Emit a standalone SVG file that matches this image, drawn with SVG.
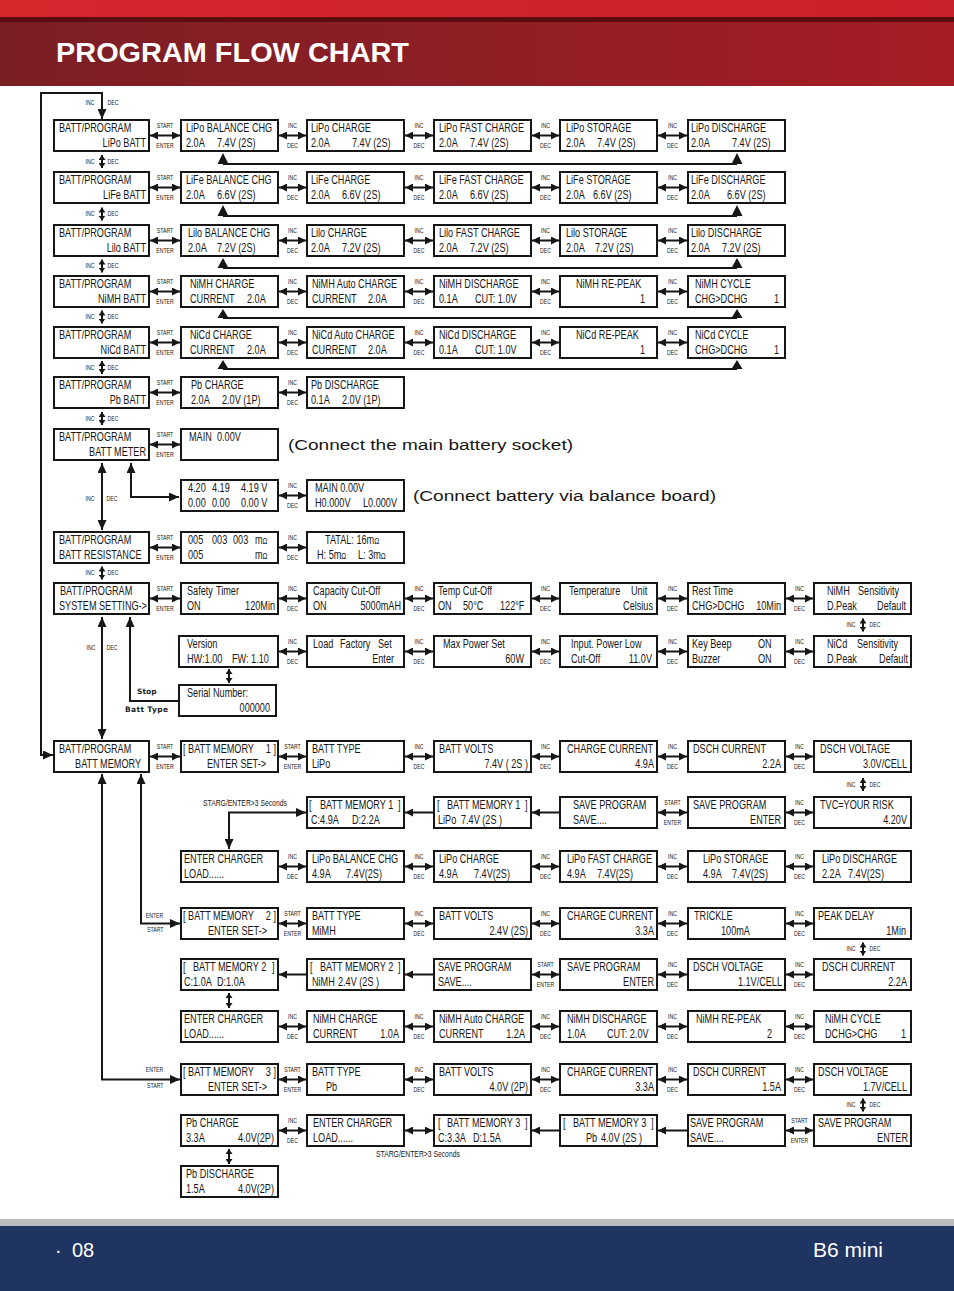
<svg xmlns="http://www.w3.org/2000/svg" width="954" height="1291" viewBox="0 0 954 1291">
<defs>
<linearGradient id="band" x1="0" x2="1" y1="0" y2="0"><stop offset="0" stop-color="#7a1f25"/><stop offset="1" stop-color="#a51d25"/></linearGradient>
<linearGradient id="topbar" x1="0" x2="1" y1="0" y2="0"><stop offset="0" stop-color="#d8262d"/><stop offset="1" stop-color="#c92129"/></linearGradient>
<marker id="h" viewBox="0 0 8 8" refX="8" refY="4" markerWidth="8" markerHeight="8" markerUnits="userSpaceOnUse" orient="auto-start-reverse"><path d="M0,0L8,4L0,8z" fill="#161616"/></marker>
<marker id="H" viewBox="0 0 10 9" refX="10" refY="4.5" markerWidth="10" markerHeight="9" markerUnits="userSpaceOnUse" orient="auto-start-reverse"><path d="M0,0L10,4.5L0,9z" fill="#161616"/></marker>
<marker id="v" viewBox="0 0 5 7" refX="5" refY="3.5" markerWidth="5" markerHeight="7" markerUnits="userSpaceOnUse" orient="auto-start-reverse"><path d="M0,0L5,3.5L0,7z" fill="#161616"/></marker>
</defs>
<style>
text{font-family:"Liberation Sans",Arial,Helvetica,sans-serif;fill:#161616}
.bx rect{fill:#fff;stroke:#161616;stroke-width:2}
.bx text{font-size:12.5px}
.e{text-anchor:end}
.cn line,.cn path{stroke:#161616;stroke-width:2;fill:none}
.cn .rl{stroke-width:1.8}
.cn .tri{fill:#161616;stroke:none}
.d{marker-start:url(#h);marker-end:url(#h)}
.l{marker-end:url(#h)}
.D{marker-start:url(#H);marker-end:url(#H)}
.E{marker-end:url(#H)}
.S{marker-start:url(#v);marker-end:url(#v)}
.lb text{font-size:6.5px;text-anchor:middle}
.lb .st{text-anchor:start;font-size:8.5px}
.note{font-size:15.5px}
.bt{font-family:"DejaVu Sans",sans-serif;font-weight:bold;font-size:7.5px;fill:#222}
</style>
<rect width="954" height="1291" fill="#fff"/>
<g id="header">
<rect x="0" y="0" width="954" height="18" fill="url(#topbar)"/>
<rect x="0" y="17" width="954" height="5" fill="#5a0c11"/>
<rect x="0" y="22" width="954" height="64" fill="url(#band)"/>
<text x="56" y="62" font-size="27" font-weight="bold" style="fill:#fff" textLength="353" lengthAdjust="spacingAndGlyphs">PROGRAM FLOW CHART</text>
</g>
<g id="footer">
<rect x="0" y="1219" width="954" height="7" fill="#bcbcc0"/>
<rect x="0" y="1226" width="954" height="65" fill="#1f3461"/>
<text x="55" y="1257" font-size="20" style="fill:#fff">·</text>
<text x="72" y="1257" font-size="20" style="fill:#fff">08</text>
<text x="883" y="1257" font-size="21" style="fill:#fff" text-anchor="end">B6 mini</text>
</g>

<g id="r1c0" class="bx"><rect x="54" y="120" width="95" height="31"/><text transform="matrix(.73 0 0 1 59 132)">BATT/PROGRAM</text><text class="e" transform="matrix(.73 0 0 1 146 146.5)">LiPo BATT</text></g>
<g id="r1c1" class="bx"><rect x="181" y="120" width="97" height="31"/><text transform="matrix(.73 0 0 1 186 132)">LiPo BALANCE CHG</text><text transform="matrix(.73 0 0 1 186 146.5)">2.0A</text><text transform="matrix(.73 0 0 1 217 146.5)">7.4V (2S)</text></g>
<g id="r1c2" class="bx"><rect x="307" y="120" width="97" height="31"/><text transform="matrix(.73 0 0 1 311 132)">LiPo CHARGE</text><text transform="matrix(.73 0 0 1 311 146.5)">2.0A</text><text transform="matrix(.73 0 0 1 352 146.5)">7.4V (2S)</text></g>
<g id="r1c3" class="bx"><rect x="434" y="120" width="97" height="31"/><text transform="matrix(.73 0 0 1 439 132)">LiPo FAST CHARGE</text><text transform="matrix(.73 0 0 1 439 146.5)">2.0A</text><text transform="matrix(.73 0 0 1 470 146.5)">7.4V (2S)</text></g>
<g id="r1c4" class="bx"><rect x="560" y="120" width="97" height="31"/><text transform="matrix(.73 0 0 1 566 132)">LiPo STORAGE</text><text transform="matrix(.73 0 0 1 566 146.5)">2.0A</text><text transform="matrix(.73 0 0 1 597 146.5)">7.4V (2S)</text></g>
<g id="r1c5" class="bx"><rect x="688" y="120" width="97" height="31"/><text transform="matrix(.73 0 0 1 691 132)">LiPo DISCHARGE</text><text transform="matrix(.73 0 0 1 691 146.5)">2.0A</text><text transform="matrix(.73 0 0 1 732 146.5)">7.4V (2S)</text></g>

<g id="r2c0" class="bx"><rect x="54" y="172" width="95" height="31"/><text transform="matrix(.73 0 0 1 59 184)">BATT/PROGRAM</text><text class="e" transform="matrix(.73 0 0 1 146 198.5)">LiFe BATT</text></g>
<g id="r2c1" class="bx"><rect x="181" y="172" width="97" height="31"/><text transform="matrix(.73 0 0 1 186 184)">LiFe BALANCE CHG</text><text transform="matrix(.73 0 0 1 186 198.5)">2.0A</text><text transform="matrix(.73 0 0 1 217 198.5)">6.6V (2S)</text></g>
<g id="r2c2" class="bx"><rect x="307" y="172" width="97" height="31"/><text transform="matrix(.73 0 0 1 311 184)">LiFe CHARGE</text><text transform="matrix(.73 0 0 1 311 198.5)">2.0A</text><text transform="matrix(.73 0 0 1 342 198.5)">6.6V (2S)</text></g>
<g id="r2c3" class="bx"><rect x="434" y="172" width="97" height="31"/><text transform="matrix(.73 0 0 1 439 184)">LiFe FAST CHARGE</text><text transform="matrix(.73 0 0 1 439 198.5)">2.0A</text><text transform="matrix(.73 0 0 1 470 198.5)">6.6V (2S)</text></g>
<g id="r2c4" class="bx"><rect x="560" y="172" width="97" height="31"/><text transform="matrix(.73 0 0 1 566 184)">LiFe STORAGE</text><text transform="matrix(.73 0 0 1 566 198.5)">2.0A</text><text transform="matrix(.73 0 0 1 593 198.5)">6.6V (2S)</text></g>
<g id="r2c5" class="bx"><rect x="688" y="172" width="97" height="31"/><text transform="matrix(.73 0 0 1 691 184)">LiFe DISCHARGE</text><text transform="matrix(.73 0 0 1 691 198.5)">2.0A</text><text transform="matrix(.73 0 0 1 727 198.5)">6.6V (2S)</text></g>

<g id="r3c0" class="bx"><rect x="54" y="225" width="95" height="31"/><text transform="matrix(.73 0 0 1 59 237)">BATT/PROGRAM</text><text class="e" transform="matrix(.73 0 0 1 146 251.5)">Lilo BATT</text></g>
<g id="r3c1" class="bx"><rect x="181" y="225" width="97" height="31"/><text transform="matrix(.73 0 0 1 188 237)">Lilo BALANCE CHG</text><text transform="matrix(.73 0 0 1 188 251.5)">2.0A</text><text transform="matrix(.73 0 0 1 217 251.5)">7.2V (2S)</text></g>
<g id="r3c2" class="bx"><rect x="307" y="225" width="97" height="31"/><text transform="matrix(.73 0 0 1 311 237)">Lilo CHARGE</text><text transform="matrix(.73 0 0 1 311 251.5)">2.0A</text><text transform="matrix(.73 0 0 1 342 251.5)">7.2V (2S)</text></g>
<g id="r3c3" class="bx"><rect x="434" y="225" width="97" height="31"/><text transform="matrix(.73 0 0 1 439 237)">Lilo FAST CHARGE</text><text transform="matrix(.73 0 0 1 439 251.5)">2.0A</text><text transform="matrix(.73 0 0 1 470 251.5)">7.2V (2S)</text></g>
<g id="r3c4" class="bx"><rect x="560" y="225" width="97" height="31"/><text transform="matrix(.73 0 0 1 566 237)">Lilo STORAGE</text><text transform="matrix(.73 0 0 1 566 251.5)">2.0A</text><text transform="matrix(.73 0 0 1 595 251.5)">7.2V (2S)</text></g>
<g id="r3c5" class="bx"><rect x="688" y="225" width="97" height="31"/><text transform="matrix(.73 0 0 1 691 237)">Lilo DISCHARGE</text><text transform="matrix(.73 0 0 1 691 251.5)">2.0A</text><text transform="matrix(.73 0 0 1 722 251.5)">7.2V (2S)</text></g>

<g id="r4c0" class="bx"><rect x="54" y="276" width="95" height="31"/><text transform="matrix(.73 0 0 1 59 288)">BATT/PROGRAM</text><text class="e" transform="matrix(.73 0 0 1 146 302.5)">NiMH BATT</text></g>
<g id="r4c1" class="bx"><rect x="181" y="276" width="97" height="31"/><text transform="matrix(.73 0 0 1 190 288)">NiMH CHARGE</text><text transform="matrix(.73 0 0 1 190 302.5)">CURRENT</text><text transform="matrix(.73 0 0 1 247 302.5)">2.0A</text></g>
<g id="r4c2" class="bx"><rect x="307" y="276" width="97" height="31"/><text transform="matrix(.73 0 0 1 312 288)">NiMH Auto CHARGE</text><text transform="matrix(.73 0 0 1 312 302.5)">CURRENT</text><text transform="matrix(.73 0 0 1 368 302.5)">2.0A</text></g>
<g id="r4c3" class="bx"><rect x="434" y="276" width="97" height="31"/><text transform="matrix(.73 0 0 1 439 288)">NiMH DISCHARGE</text><text transform="matrix(.73 0 0 1 439 302.5)">0.1A</text><text transform="matrix(.73 0 0 1 475 302.5)">CUT: 1.0V</text></g>
<g id="r4c4" class="bx"><rect x="560" y="276" width="97" height="31"/><text transform="matrix(.73 0 0 1 576 288)">NiMH RE-PEAK</text><text class="e" transform="matrix(.73 0 0 1 645 302.5)">1</text></g>
<g id="r4c5" class="bx"><rect x="688" y="276" width="97" height="31"/><text transform="matrix(.73 0 0 1 695 288)">NiMH CYCLE</text><text transform="matrix(.73 0 0 1 695 302.5)">CHG&gt;DCHG</text><text transform="matrix(.73 0 0 1 774 302.5)">1</text></g>

<g id="r5c0" class="bx"><rect x="54" y="327" width="95" height="31"/><text transform="matrix(.73 0 0 1 59 339)">BATT/PROGRAM</text><text class="e" transform="matrix(.73 0 0 1 146 353.5)">NiCd BATT</text></g>
<g id="r5c1" class="bx"><rect x="181" y="327" width="97" height="31"/><text transform="matrix(.73 0 0 1 190 339)">NiCd CHARGE</text><text transform="matrix(.73 0 0 1 190 353.5)">CURRENT</text><text transform="matrix(.73 0 0 1 247 353.5)">2.0A</text></g>
<g id="r5c2" class="bx"><rect x="307" y="327" width="97" height="31"/><text transform="matrix(.73 0 0 1 312 339)">NiCd Auto CHARGE</text><text transform="matrix(.73 0 0 1 312 353.5)">CURRENT</text><text transform="matrix(.73 0 0 1 368 353.5)">2.0A</text></g>
<g id="r5c3" class="bx"><rect x="434" y="327" width="97" height="31"/><text transform="matrix(.73 0 0 1 439 339)">NiCd DISCHARGE</text><text transform="matrix(.73 0 0 1 439 353.5)">0.1A</text><text transform="matrix(.73 0 0 1 475 353.5)">CUT: 1.0V</text></g>
<g id="r5c4" class="bx"><rect x="560" y="327" width="97" height="31"/><text transform="matrix(.73 0 0 1 576 339)">NiCd RE-PEAK</text><text class="e" transform="matrix(.73 0 0 1 645 353.5)">1</text></g>
<g id="r5c5" class="bx"><rect x="688" y="327" width="97" height="31"/><text transform="matrix(.73 0 0 1 695 339)">NiCd CYCLE</text><text transform="matrix(.73 0 0 1 695 353.5)">CHG&gt;DCHG</text><text transform="matrix(.73 0 0 1 774 353.5)">1</text></g>

<g id="r6c0" class="bx"><rect x="54" y="377" width="95" height="31"/><text transform="matrix(.73 0 0 1 59 389)">BATT/PROGRAM</text><text class="e" transform="matrix(.73 0 0 1 146 403.5)">Pb BATT</text></g>
<g id="r6c1" class="bx"><rect x="181" y="377" width="97" height="31"/><text transform="matrix(.73 0 0 1 191 389)">Pb CHARGE</text><text transform="matrix(.73 0 0 1 191 403.5)">2.0A</text><text transform="matrix(.73 0 0 1 222 403.5)">2.0V (1P)</text></g>
<g id="r6c2" class="bx"><rect x="307" y="377" width="97" height="31"/><text transform="matrix(.73 0 0 1 311 389)">Pb DISCHARGE</text><text transform="matrix(.73 0 0 1 311 403.5)">0.1A</text><text transform="matrix(.73 0 0 1 342 403.5)">2.0V (1P)</text></g>

<g id="r7c0" class="bx"><rect x="54" y="429" width="95" height="31"/><text transform="matrix(.73 0 0 1 59 441)">BATT/PROGRAM</text><text class="e" transform="matrix(.73 0 0 1 146 455.5)">BATT METER</text></g>
<g id="r7c1" class="bx"><rect x="181" y="429" width="97" height="31"/><text transform="matrix(.73 0 0 1 189 441)">MAIN</text><text transform="matrix(.73 0 0 1 217 441)">0.00V</text></g>
<g id="note1"><text class="note" x="288" y="449.5" textLength="285" lengthAdjust="spacingAndGlyphs">(Connect the main battery socket)</text></g>

<g id="r8c1" class="bx"><rect x="181" y="480" width="97" height="31"/><text transform="matrix(.73 0 0 1 188 492)">4.20</text><text transform="matrix(.73 0 0 1 212 492)">4.19</text><text transform="matrix(.73 0 0 1 241 492)">4.19 V</text><text transform="matrix(.73 0 0 1 188 506.5)">0.00</text><text transform="matrix(.73 0 0 1 212 506.5)">0.00</text><text transform="matrix(.73 0 0 1 241 506.5)">0.00 V</text></g>
<g id="r8c2" class="bx"><rect x="307" y="480" width="97" height="31"/><text transform="matrix(.73 0 0 1 315 492)">MAIN 0.00V</text><text transform="matrix(.73 0 0 1 315 506.5)">H0.000V</text><text transform="matrix(.73 0 0 1 363 506.5)">L0.000V</text></g>
<g id="note2"><text class="note" x="413" y="500.5" textLength="303" lengthAdjust="spacingAndGlyphs">(Connect battery via balance board)</text></g>

<g id="r9c0" class="bx"><rect x="54" y="532" width="95" height="31"/><text transform="matrix(.73 0 0 1 59 544)">BATT/PROGRAM</text><text transform="matrix(.73 0 0 1 59 558.5)">BATT RESISTANCE</text></g>
<g id="r9c1" class="bx"><rect x="181" y="532" width="97" height="31"/><text transform="matrix(.73 0 0 1 188 544)">005</text><text transform="matrix(.73 0 0 1 212 544)">003</text><text transform="matrix(.73 0 0 1 233 544)">003</text><text transform="matrix(.73 0 0 1 255 544)">m<tspan style="font-size:9px">Ω</tspan></text><text transform="matrix(.73 0 0 1 188 558.5)">005</text><text transform="matrix(.73 0 0 1 255 558.5)">m<tspan style="font-size:9px">Ω</tspan></text></g>
<g id="r9c2" class="bx"><rect x="307" y="532" width="97" height="31"/><text transform="matrix(.73 0 0 1 325 544)">TATAL:  16m<tspan style="font-size:9px">Ω</tspan></text><text transform="matrix(.73 0 0 1 317 558.5)">H:  5m<tspan style="font-size:9px">Ω</tspan></text><text transform="matrix(.73 0 0 1 358 558.5)">L:  3m<tspan style="font-size:9px">Ω</tspan></text></g>

<g id="r10c0" class="bx"><rect x="54" y="583" width="95" height="31"/><text transform="matrix(.73 0 0 1 60 595)">BATT/PROGRAM</text><text transform="matrix(.73 0 0 1 59 609.5)">SYSTEM SETTING-&gt;</text></g>
<g id="r10c1" class="bx"><rect x="181" y="583" width="97" height="31"/><text transform="matrix(.73 0 0 1 187 595)">Safety</text><text transform="matrix(.73 0 0 1 216 595)">Timer</text><text transform="matrix(.73 0 0 1 187 609.5)">ON</text><text class="e" transform="matrix(.73 0 0 1 275 609.5)">120Min</text></g>
<g id="r10c2" class="bx"><rect x="307" y="583" width="97" height="31"/><text transform="matrix(.73 0 0 1 313 595)">Capacity Cut-Off</text><text transform="matrix(.73 0 0 1 313 609.5)">ON</text><text class="e" transform="matrix(.73 0 0 1 401 609.5)">5000mAH</text></g>
<g id="r10c3" class="bx"><rect x="434" y="583" width="97" height="31"/><text transform="matrix(.73 0 0 1 438 595)">Temp Cut-Off</text><text transform="matrix(.73 0 0 1 438 609.5)">ON</text><text transform="matrix(.73 0 0 1 463 609.5)">50°C</text><text transform="matrix(.73 0 0 1 500 609.5)">122°F</text></g>
<g id="r10c4" class="bx"><rect x="560" y="583" width="97" height="31"/><text transform="matrix(.73 0 0 1 569 595)">Temperature</text><text transform="matrix(.73 0 0 1 631 595)">Unit</text><text class="e" transform="matrix(.73 0 0 1 653 609.5)">Celsius</text></g>
<g id="r10c5" class="bx"><rect x="688" y="583" width="97" height="31"/><text transform="matrix(.73 0 0 1 692 595)">Rest Time</text><text transform="matrix(.73 0 0 1 692 609.5)">CHG&gt;DCHG</text><text class="e" transform="matrix(.73 0 0 1 781 609.5)">10Min</text></g>
<g id="r10c6" class="bx"><rect x="814" y="583" width="97" height="31"/><text transform="matrix(.73 0 0 1 827 595)">NiMH</text><text transform="matrix(.73 0 0 1 858 595)">Sensitivity</text><text transform="matrix(.73 0 0 1 827 609.5)">D.Peak</text><text class="e" transform="matrix(.73 0 0 1 906 609.5)">Default</text></g>

<g id="r11c1" class="bx"><rect x="179" y="636" width="99" height="31"/><text transform="matrix(.73 0 0 1 187 648)">Version</text><text transform="matrix(.73 0 0 1 187 662.5)">HW:1.00</text><text transform="matrix(.73 0 0 1 232 662.5)">FW: 1.10</text></g>
<g id="r11c2" class="bx"><rect x="307" y="636" width="97" height="31"/><text transform="matrix(.73 0 0 1 313 648)">Load</text><text transform="matrix(.73 0 0 1 340 648)">Factory</text><text transform="matrix(.73 0 0 1 378 648)">Set</text><text class="e" transform="matrix(.73 0 0 1 394 662.5)">Enter</text></g>
<g id="r11c3" class="bx"><rect x="434" y="636" width="97" height="31"/><text transform="matrix(.73 0 0 1 443 648)">Max Power Set</text><text class="e" transform="matrix(.73 0 0 1 524 662.5)">60W</text></g>
<g id="r11c4" class="bx"><rect x="560" y="636" width="97" height="31"/><text transform="matrix(.73 0 0 1 571 648)">Input. Power Low</text><text transform="matrix(.73 0 0 1 571 662.5)">Cut-Off</text><text class="e" transform="matrix(.73 0 0 1 652 662.5)">11.0V</text></g>
<g id="r11c5" class="bx"><rect x="688" y="636" width="97" height="31"/><text transform="matrix(.73 0 0 1 692 648)">Key Beep</text><text transform="matrix(.73 0 0 1 758 648)">ON</text><text transform="matrix(.73 0 0 1 692 662.5)">Buzzer</text><text transform="matrix(.73 0 0 1 758 662.5)">ON</text></g>
<g id="r11c6" class="bx"><rect x="814" y="636" width="97" height="31"/><text transform="matrix(.73 0 0 1 827 648)">NiCd</text><text transform="matrix(.73 0 0 1 857 648)">Sensitivity</text><text transform="matrix(.73 0 0 1 827 662.5)">D.Peak</text><text class="e" transform="matrix(.73 0 0 1 908 662.5)">Default</text></g>

<g id="r12c1" class="bx"><rect x="179" y="685" width="97" height="31"/><text transform="matrix(.73 0 0 1 187 697)">Serial</text><text transform="matrix(.73 0 0 1 213 697)">Number:</text><text class="e" transform="matrix(.73 0 0 1 270 711.5)">000000</text></g>

<g id="r13c0" class="bx"><rect x="54" y="741" width="95" height="31"/><text transform="matrix(.73 0 0 1 59 753)">BATT/PROGRAM</text><text class="e" transform="matrix(.73 0 0 1 141 767.5)">BATT MEMORY</text></g>
<g id="r13c1" class="bx"><rect x="181" y="741" width="97" height="31"/><text transform="matrix(.73 0 0 1 183 753)">[ BATT MEMORY</text><text class="e" transform="matrix(.73 0 0 1 276 753)">1 ]</text><text transform="matrix(.73 0 0 1 207 767.5)">ENTER SET-&gt;</text></g>
<g id="r13c2" class="bx"><rect x="307" y="741" width="97" height="31"/><text transform="matrix(.73 0 0 1 312 753)">BATT TYPE</text><text transform="matrix(.73 0 0 1 312 767.5)">LiPo</text></g>
<g id="r13c3" class="bx"><rect x="434" y="741" width="97" height="31"/><text transform="matrix(.73 0 0 1 439 753)">BATT VOLTS</text><text class="e" transform="matrix(.73 0 0 1 528 767.5)">7.4V ( 2S )</text></g>
<g id="r13c4" class="bx"><rect x="560" y="741" width="97" height="31"/><text transform="matrix(.73 0 0 1 567 753)">CHARGE CURRENT</text><text class="e" transform="matrix(.73 0 0 1 654 767.5)">4.9A</text></g>
<g id="r13c5" class="bx"><rect x="688" y="741" width="97" height="31"/><text transform="matrix(.73 0 0 1 693 753)">DSCH CURRENT</text><text class="e" transform="matrix(.73 0 0 1 781 767.5)">2.2A</text></g>
<g id="r13c6" class="bx"><rect x="814" y="741" width="97" height="31"/><text transform="matrix(.73 0 0 1 820 753)">DSCH VOLTAGE</text><text class="e" transform="matrix(.73 0 0 1 907 767.5)">3.0V/CELL</text></g>

<g id="r14c2" class="bx"><rect x="307" y="797" width="97" height="31"/><text transform="matrix(.73 0 0 1 309 809)">[</text><text transform="matrix(.73 0 0 1 320 809)">BATT MEMORY 1</text><text transform="matrix(.73 0 0 1 398 809)">]</text><text transform="matrix(.73 0 0 1 311 823.5)">C:4.9A</text><text transform="matrix(.73 0 0 1 352 823.5)">D:2.2A</text></g>
<g id="r14c3" class="bx"><rect x="434" y="797" width="97" height="31"/><text transform="matrix(.73 0 0 1 437 809)">[</text><text transform="matrix(.73 0 0 1 447 809)">BATT MEMORY 1</text><text transform="matrix(.73 0 0 1 525 809)">]</text><text transform="matrix(.73 0 0 1 438 823.5)">LiPo</text><text transform="matrix(.73 0 0 1 461 823.5)">7.4V (2S )</text></g>
<g id="r14c4" class="bx"><rect x="560" y="797" width="97" height="31"/><text transform="matrix(.73 0 0 1 573 809)">SAVE PROGRAM</text><text transform="matrix(.73 0 0 1 573 823.5)">SAVE....</text></g>
<g id="r14c5" class="bx"><rect x="688" y="797" width="97" height="31"/><text transform="matrix(.73 0 0 1 693 809)">SAVE PROGRAM</text><text class="e" transform="matrix(.73 0 0 1 781 823.5)">ENTER</text></g>
<g id="r14c6" class="bx"><rect x="814" y="797" width="97" height="31"/><text transform="matrix(.73 0 0 1 820 809)">TVC=YOUR RISK</text><text class="e" transform="matrix(.73 0 0 1 907 823.5)">4.20V</text></g>

<g id="r15c1" class="bx"><rect x="181" y="851" width="97" height="31"/><text transform="matrix(.73 0 0 1 184 863)">ENTER CHARGER</text><text transform="matrix(.73 0 0 1 184 877.5)">LOAD......</text></g>
<g id="r15c2" class="bx"><rect x="307" y="851" width="97" height="31"/><text transform="matrix(.73 0 0 1 312 863)">LiPo BALANCE CHG</text><text transform="matrix(.73 0 0 1 312 877.5)">4.9A</text><text transform="matrix(.73 0 0 1 346 877.5)">7.4V(2S)</text></g>
<g id="r15c3" class="bx"><rect x="434" y="851" width="97" height="31"/><text transform="matrix(.73 0 0 1 439 863)">LiPo CHARGE</text><text transform="matrix(.73 0 0 1 439 877.5)">4.9A</text><text transform="matrix(.73 0 0 1 474 877.5)">7.4V(2S)</text></g>
<g id="r15c4" class="bx"><rect x="560" y="851" width="97" height="31"/><text transform="matrix(.73 0 0 1 567 863)">LiPo FAST CHARGE</text><text transform="matrix(.73 0 0 1 567 877.5)">4.9A</text><text transform="matrix(.73 0 0 1 597 877.5)">7.4V(2S)</text></g>
<g id="r15c5" class="bx"><rect x="688" y="851" width="97" height="31"/><text transform="matrix(.73 0 0 1 703 863)">LiPo STORAGE</text><text transform="matrix(.73 0 0 1 703 877.5)">4.9A</text><text transform="matrix(.73 0 0 1 732 877.5)">7.4V(2S)</text></g>
<g id="r15c6" class="bx"><rect x="814" y="851" width="97" height="31"/><text transform="matrix(.73 0 0 1 822 863)">LiPo DISCHARGE</text><text transform="matrix(.73 0 0 1 822 877.5)">2.2A</text><text transform="matrix(.73 0 0 1 848 877.5)">7.4V(2S)</text></g>

<g id="r16c1" class="bx"><rect x="181" y="908" width="97" height="31"/><text transform="matrix(.73 0 0 1 183 920)">[ BATT MEMORY</text><text class="e" transform="matrix(.73 0 0 1 276 920)">2 ]</text><text transform="matrix(.73 0 0 1 208 934.5)">ENTER SET-&gt;</text></g>
<g id="r16c2" class="bx"><rect x="307" y="908" width="97" height="31"/><text transform="matrix(.73 0 0 1 312 920)">BATT TYPE</text><text transform="matrix(.73 0 0 1 312 934.5)">MiMH</text></g>
<g id="r16c3" class="bx"><rect x="434" y="908" width="97" height="31"/><text transform="matrix(.73 0 0 1 439 920)">BATT VOLTS</text><text class="e" transform="matrix(.73 0 0 1 528 934.5)">2.4V (2S)</text></g>
<g id="r16c4" class="bx"><rect x="560" y="908" width="97" height="31"/><text transform="matrix(.73 0 0 1 567 920)">CHARGE CURRENT</text><text class="e" transform="matrix(.73 0 0 1 654 934.5)">3.3A</text></g>
<g id="r16c5" class="bx"><rect x="688" y="908" width="97" height="31"/><text transform="matrix(.73 0 0 1 694 920)">TRICKLE</text><text transform="matrix(.73 0 0 1 721 934.5)">100mA</text></g>
<g id="r16c6" class="bx"><rect x="814" y="908" width="97" height="31"/><text transform="matrix(.73 0 0 1 818 920)">PEAK DELAY</text><text class="e" transform="matrix(.73 0 0 1 906 934.5)">1Min</text></g>

<g id="r17c1" class="bx"><rect x="181" y="959" width="97" height="31"/><text transform="matrix(.73 0 0 1 183 971)">[</text><text transform="matrix(.73 0 0 1 193 971)">BATT MEMORY 2</text><text transform="matrix(.73 0 0 1 272 971)">]</text><text transform="matrix(.73 0 0 1 184 985.5)">C:1.0A</text><text transform="matrix(.73 0 0 1 217 985.5)">D:1.0A</text></g>
<g id="r17c2" class="bx"><rect x="307" y="959" width="97" height="31"/><text transform="matrix(.73 0 0 1 310 971)">[</text><text transform="matrix(.73 0 0 1 320 971)">BATT MEMORY 2</text><text transform="matrix(.73 0 0 1 398 971)">]</text><text transform="matrix(.73 0 0 1 312 985.5)">NiMH</text><text transform="matrix(.73 0 0 1 338 985.5)">2.4V (2S )</text></g>
<g id="r17c3" class="bx"><rect x="434" y="959" width="97" height="31"/><text transform="matrix(.73 0 0 1 438 971)">SAVE PROGRAM</text><text transform="matrix(.73 0 0 1 438 985.5)">SAVE....</text></g>
<g id="r17c4" class="bx"><rect x="560" y="959" width="97" height="31"/><text transform="matrix(.73 0 0 1 567 971)">SAVE PROGRAM</text><text class="e" transform="matrix(.73 0 0 1 654 985.5)">ENTER</text></g>
<g id="r17c5" class="bx"><rect x="688" y="959" width="97" height="31"/><text transform="matrix(.73 0 0 1 693 971)">DSCH VOLTAGE</text><text class="e" transform="matrix(.73 0 0 1 782 985.5)">1.1V/CELL</text></g>
<g id="r17c6" class="bx"><rect x="814" y="959" width="97" height="31"/><text transform="matrix(.73 0 0 1 822 971)">DSCH CURRENT</text><text class="e" transform="matrix(.73 0 0 1 907 985.5)">2.2A</text></g>

<g id="r18c1" class="bx"><rect x="181" y="1011" width="97" height="31"/><text transform="matrix(.73 0 0 1 184 1023)">ENTER CHARGER</text><text transform="matrix(.73 0 0 1 184 1037.5)">LOAD......</text></g>
<g id="r18c2" class="bx"><rect x="307" y="1011" width="97" height="31"/><text transform="matrix(.73 0 0 1 313 1023)">NiMH CHARGE</text><text transform="matrix(.73 0 0 1 313 1037.5)">CURRENT</text><text class="e" transform="matrix(.73 0 0 1 399 1037.5)">1.0A</text></g>
<g id="r18c3" class="bx"><rect x="434" y="1011" width="97" height="31"/><text transform="matrix(.73 0 0 1 439 1023)">NiMH Auto CHARGE</text><text transform="matrix(.73 0 0 1 439 1037.5)">CURRENT</text><text class="e" transform="matrix(.73 0 0 1 525 1037.5)">1.2A</text></g>
<g id="r18c4" class="bx"><rect x="560" y="1011" width="97" height="31"/><text transform="matrix(.73 0 0 1 567 1023)">NiMH DISCHARGE</text><text transform="matrix(.73 0 0 1 567 1037.5)">1.0A</text><text transform="matrix(.73 0 0 1 607 1037.5)">CUT: 2.0V</text></g>
<g id="r18c5" class="bx"><rect x="688" y="1011" width="97" height="31"/><text transform="matrix(.73 0 0 1 696 1023)">NiMH RE-PEAK</text><text class="e" transform="matrix(.73 0 0 1 772 1037.5)">2</text></g>
<g id="r18c6" class="bx"><rect x="814" y="1011" width="97" height="31"/><text transform="matrix(.73 0 0 1 825 1023)">NiMH CYCLE</text><text transform="matrix(.73 0 0 1 825 1037.5)">DCHG&gt;CHG</text><text class="e" transform="matrix(.73 0 0 1 906 1037.5)">1</text></g>

<g id="r19c1" class="bx"><rect x="181" y="1064" width="97" height="31"/><text transform="matrix(.73 0 0 1 183 1076)">[ BATT MEMORY</text><text class="e" transform="matrix(.73 0 0 1 276 1076)">3 ]</text><text transform="matrix(.73 0 0 1 208 1090.5)">ENTER SET-&gt;</text></g>
<g id="r19c2" class="bx"><rect x="307" y="1064" width="97" height="31"/><text transform="matrix(.73 0 0 1 312 1076)">BATT TYPE</text><text transform="matrix(.73 0 0 1 326 1090.5)">Pb</text></g>
<g id="r19c3" class="bx"><rect x="434" y="1064" width="97" height="31"/><text transform="matrix(.73 0 0 1 439 1076)">BATT VOLTS</text><text class="e" transform="matrix(.73 0 0 1 528 1090.5)">4.0V (2P)</text></g>
<g id="r19c4" class="bx"><rect x="560" y="1064" width="97" height="31"/><text transform="matrix(.73 0 0 1 567 1076)">CHARGE CURRENT</text><text class="e" transform="matrix(.73 0 0 1 654 1090.5)">3.3A</text></g>
<g id="r19c5" class="bx"><rect x="688" y="1064" width="97" height="31"/><text transform="matrix(.73 0 0 1 693 1076)">DSCH CURRENT</text><text class="e" transform="matrix(.73 0 0 1 781 1090.5)">1.5A</text></g>
<g id="r19c6" class="bx"><rect x="814" y="1064" width="97" height="31"/><text transform="matrix(.73 0 0 1 818 1076)">DSCH VOLTAGE</text><text class="e" transform="matrix(.73 0 0 1 907 1090.5)">1.7V/CELL</text></g>

<g id="r20c1" class="bx"><rect x="181" y="1115" width="97" height="31"/><text transform="matrix(.73 0 0 1 186 1127)">Pb CHARGE</text><text transform="matrix(.73 0 0 1 186 1141.5)">3.3A</text><text class="e" transform="matrix(.73 0 0 1 274 1141.5)">4.0V(2P)</text></g>
<g id="r20c2" class="bx"><rect x="307" y="1115" width="97" height="31"/><text transform="matrix(.73 0 0 1 313 1127)">ENTER CHARGER</text><text transform="matrix(.73 0 0 1 313 1141.5)">LOAD......</text></g>
<g id="r20c3" class="bx"><rect x="434" y="1115" width="97" height="31"/><text transform="matrix(.73 0 0 1 438 1127)">[</text><text transform="matrix(.73 0 0 1 447 1127)">BATT MEMORY 3</text><text transform="matrix(.73 0 0 1 525 1127)">]</text><text transform="matrix(.73 0 0 1 438 1141.5)">C:3.3A</text><text transform="matrix(.73 0 0 1 473 1141.5)">D:1.5A</text></g>
<g id="r20c4" class="bx"><rect x="560" y="1115" width="97" height="31"/><text transform="matrix(.73 0 0 1 563 1127)">[</text><text transform="matrix(.73 0 0 1 573 1127)">BATT MEMORY 3</text><text transform="matrix(.73 0 0 1 651 1127)">]</text><text transform="matrix(.73 0 0 1 586 1141.5)">Pb</text><text transform="matrix(.73 0 0 1 601 1141.5)">4.0V (2S )</text></g>
<g id="r20c5" class="bx"><rect x="688" y="1115" width="97" height="31"/><text transform="matrix(.73 0 0 1 690 1127)">SAVE PROGRAM</text><text transform="matrix(.73 0 0 1 690 1141.5)">SAVE....</text></g>
<g id="r20c6" class="bx"><rect x="814" y="1115" width="97" height="31"/><text transform="matrix(.73 0 0 1 818 1127)">SAVE PROGRAM</text><text class="e" transform="matrix(.73 0 0 1 908 1141.5)">ENTER</text></g>

<g id="r21c1" class="bx"><rect x="181" y="1166" width="97" height="31"/><text transform="matrix(.73 0 0 1 186 1178)">Pb DISCHARGE</text><text transform="matrix(.73 0 0 1 186 1192.5)">1.5A</text><text class="e" transform="matrix(.73 0 0 1 274 1192.5)">4.0V(2P)</text></g>

<g id="connectors" class="cn">
<path class="D" d="M102,119V93H41V755H53"/>
<line class="D" x1="102" y1="463" x2="102" y2="530"/>
<path class="D" d="M131,463V497H179"/>
<line class="D" x1="102" y1="617" x2="102" y2="739"/>
<path class="E" d="M178,701H130V617"/>
<path class="D" d="M141,774V923.5H180"/>
<path class="D" d="M102,774V1079.5H180"/>
<path class="D" d="M229,849V812.5H306"/>

<line class="rl" x1="223" y1="164" x2="737" y2="164"/>
<line class="rl" x1="223" y1="216" x2="737" y2="216"/>
<line class="rl" x1="223" y1="268" x2="737" y2="268"/>
<line class="rl" x1="223" y1="318" x2="737" y2="318"/>
<line class="rl" x1="223" y1="369" x2="737" y2="369"/>
<path class="tri" d="M223,153l-5.5,11h11z M737,153l-5.5,11h11z M223,205l-5.5,11h11z M737,205l-5.5,11h11z M223,258l-5.5,10h11z M737,258l-5.5,10h11z M223,309l-5.5,9h11z M737,309l-5.5,9h11z M223,360l-5.5,9h11z M737,360l-5.5,9h11z"/>

<line class="S" x1="102" y1="155" x2="102" y2="168"/>
<line class="S" x1="102" y1="207.5" x2="102" y2="220.5"/>
<line class="S" x1="102" y1="259.5" x2="102" y2="272.5"/>
<line class="S" x1="102" y1="310.5" x2="102" y2="323.5"/>
<line class="S" x1="102" y1="361" x2="102" y2="374"/>
<line class="S" x1="102" y1="412" x2="102" y2="425"/>
<line class="S" x1="102" y1="566.5" x2="102" y2="579.5"/>
<line class="S" x1="863" y1="618.5" x2="863" y2="631.5"/>
<line class="S" x1="863" y1="778" x2="863" y2="791"/>
<line class="S" x1="863" y1="942.5" x2="863" y2="955.5"/>
<line class="S" x1="863" y1="1098.5" x2="863" y2="1111.5"/>
<line class="S" x1="229" y1="669" x2="229" y2="683"/>
<line class="S" x1="229" y1="993" x2="229" y2="1008"/>
<line class="S" x1="229" y1="1149" x2="229" y2="1164"/>

<line class="d" x1="150" y1="135.5" x2="180" y2="135.5"/><line class="d" x1="279" y1="135.5" x2="306" y2="135.5"/><line class="d" x1="405" y1="135.5" x2="433" y2="135.5"/><line class="d" x1="532" y1="135.5" x2="559" y2="135.5"/><line class="d" x1="658" y1="135.5" x2="687" y2="135.5"/>
<line class="d" x1="150" y1="187.5" x2="180" y2="187.5"/><line class="d" x1="279" y1="187.5" x2="306" y2="187.5"/><line class="d" x1="405" y1="187.5" x2="433" y2="187.5"/><line class="d" x1="532" y1="187.5" x2="559" y2="187.5"/><line class="d" x1="658" y1="187.5" x2="687" y2="187.5"/>
<line class="d" x1="150" y1="240.5" x2="180" y2="240.5"/><line class="d" x1="279" y1="240.5" x2="306" y2="240.5"/><line class="d" x1="405" y1="240.5" x2="433" y2="240.5"/><line class="d" x1="532" y1="240.5" x2="559" y2="240.5"/><line class="d" x1="658" y1="240.5" x2="687" y2="240.5"/>
<line class="d" x1="150" y1="291.5" x2="180" y2="291.5"/><line class="d" x1="279" y1="291.5" x2="306" y2="291.5"/><line class="d" x1="405" y1="291.5" x2="433" y2="291.5"/><line class="d" x1="532" y1="291.5" x2="559" y2="291.5"/><line class="d" x1="658" y1="291.5" x2="687" y2="291.5"/>
<line class="d" x1="150" y1="342.5" x2="180" y2="342.5"/><line class="d" x1="279" y1="342.5" x2="306" y2="342.5"/><line class="d" x1="405" y1="342.5" x2="433" y2="342.5"/><line class="d" x1="532" y1="342.5" x2="559" y2="342.5"/><line class="d" x1="658" y1="342.5" x2="687" y2="342.5"/>
<line class="d" x1="150" y1="392.5" x2="180" y2="392.5"/><line class="d" x1="279" y1="392.5" x2="306" y2="392.5"/>
<line class="d" x1="150" y1="444.5" x2="180" y2="444.5"/>
<line class="d" x1="279" y1="495.5" x2="306" y2="495.5"/>
<line class="d" x1="150" y1="547.5" x2="180" y2="547.5"/><line class="d" x1="279" y1="547.5" x2="306" y2="547.5"/>
<line class="d" x1="150" y1="598.5" x2="180" y2="598.5"/><line class="d" x1="279" y1="598.5" x2="306" y2="598.5"/><line class="d" x1="405" y1="598.5" x2="433" y2="598.5"/><line class="d" x1="532" y1="598.5" x2="559" y2="598.5"/><line class="d" x1="658" y1="598.5" x2="687" y2="598.5"/><line class="d" x1="786" y1="598.5" x2="813" y2="598.5"/>
<line class="d" x1="279" y1="651.5" x2="306" y2="651.5"/><line class="d" x1="405" y1="651.5" x2="433" y2="651.5"/><line class="d" x1="532" y1="651.5" x2="559" y2="651.5"/><line class="d" x1="658" y1="651.5" x2="687" y2="651.5"/><line class="d" x1="786" y1="651.5" x2="813" y2="651.5"/>
<line class="d" x1="150" y1="756.5" x2="180" y2="756.5"/><line class="d" x1="279" y1="756.5" x2="306" y2="756.5"/><line class="d" x1="405" y1="756.5" x2="433" y2="756.5"/><line class="d" x1="532" y1="756.5" x2="559" y2="756.5"/><line class="d" x1="658" y1="756.5" x2="687" y2="756.5"/><line class="d" x1="786" y1="756.5" x2="813" y2="756.5"/>
<line class="l" x1="433" y1="812.5" x2="405" y2="812.5"/><line class="l" x1="559" y1="812.5" x2="532" y2="812.5"/><line class="d" x1="658" y1="812.5" x2="687" y2="812.5"/><line class="d" x1="786" y1="812.5" x2="813" y2="812.5"/>
<line class="d" x1="279" y1="866.5" x2="306" y2="866.5"/><line class="d" x1="405" y1="866.5" x2="433" y2="866.5"/><line class="d" x1="532" y1="866.5" x2="559" y2="866.5"/><line class="d" x1="658" y1="866.5" x2="687" y2="866.5"/><line class="d" x1="786" y1="866.5" x2="813" y2="866.5"/>
<line class="d" x1="279" y1="923.5" x2="306" y2="923.5"/><line class="d" x1="405" y1="923.5" x2="433" y2="923.5"/><line class="d" x1="532" y1="923.5" x2="559" y2="923.5"/><line class="d" x1="658" y1="923.5" x2="687" y2="923.5"/><line class="d" x1="786" y1="923.5" x2="813" y2="923.5"/>
<line class="l" x1="306" y1="974.5" x2="279" y2="974.5"/><line class="l" x1="433" y1="974.5" x2="405" y2="974.5"/><line class="d" x1="532" y1="974.5" x2="559" y2="974.5"/><line class="d" x1="658" y1="974.5" x2="687" y2="974.5"/><line class="d" x1="786" y1="974.5" x2="813" y2="974.5"/>
<line class="d" x1="279" y1="1026.5" x2="306" y2="1026.5"/><line class="d" x1="405" y1="1026.5" x2="433" y2="1026.5"/><line class="d" x1="532" y1="1026.5" x2="559" y2="1026.5"/><line class="d" x1="658" y1="1026.5" x2="687" y2="1026.5"/><line class="d" x1="786" y1="1026.5" x2="813" y2="1026.5"/>
<line class="d" x1="279" y1="1079.5" x2="306" y2="1079.5"/><line class="d" x1="405" y1="1079.5" x2="433" y2="1079.5"/><line class="d" x1="532" y1="1079.5" x2="559" y2="1079.5"/><line class="d" x1="658" y1="1079.5" x2="687" y2="1079.5"/><line class="d" x1="786" y1="1079.5" x2="813" y2="1079.5"/>
<line class="d" x1="279" y1="1130.5" x2="306" y2="1130.5"/><line class="d" x1="405" y1="1130.5" x2="433" y2="1130.5"/><line class="l" x1="559" y1="1130.5" x2="532" y2="1130.5"/><line class="l" x1="687" y1="1130.5" x2="658" y2="1130.5"/><line class="d" x1="786" y1="1130.5" x2="813" y2="1130.5"/>

<text class="bt" x="137" y="694">Stop</text>
<text class="bt" x="125" y="711.5" textLength="43">Batt Type</text>

<g class="lb" transform="scale(.8 1)">
<text x="112.5" y="105">INC</text><text x="141.25" y="105">DEC</text>
<text x="112.5" y="163.8">INC</text><text x="141.25" y="163.8">DEC</text>
<text x="112.5" y="216.3">INC</text><text x="141.25" y="216.3">DEC</text>
<text x="112.5" y="268.3">INC</text><text x="141.25" y="268.3">DEC</text>
<text x="112.5" y="319.3">INC</text><text x="141.25" y="319.3">DEC</text>
<text x="112.5" y="369.8">INC</text><text x="141.25" y="369.8">DEC</text>
<text x="112.5" y="420.8">INC</text><text x="141.25" y="420.8">DEC</text>
<text x="112.5" y="501">INC</text><text x="140" y="501">DEC</text>
<text x="112.5" y="575.3">INC</text><text x="141.25" y="575.3">DEC</text>
<text x="113.75" y="650">INC</text><text x="140" y="650">DEC</text>
<text x="1063.75" y="627.3">INC</text><text x="1093.75" y="627.3">DEC</text>
<text x="1063.75" y="786.8">INC</text><text x="1093.75" y="786.8">DEC</text>
<text x="1063.75" y="951.3">INC</text><text x="1093.75" y="951.3">DEC</text>
<text x="1063.75" y="1107.3">INC</text><text x="1093.75" y="1107.3">DEC</text>
<text x="193.1" y="918">ENTER</text><text x="194.1" y="931.7">START</text>
<text x="193.1" y="1072">ENTER</text><text x="194.1" y="1088">START</text>
<text class="st" x="253.75" y="806.5">STARG/ENTER&gt;3 Seconds</text>
<text class="st" x="470" y="1157.5">STARG/ENTER&gt;3 Seconds</text>

<text x="206.25" y="128">START</text><text x="206.25" y="148">ENTER</text><text x="365.63" y="128">INC</text><text x="365.63" y="148">DEC</text><text x="523.75" y="128">INC</text><text x="523.75" y="148">DEC</text><text x="681.88" y="128">INC</text><text x="681.88" y="148">DEC</text><text x="840.63" y="128">INC</text><text x="840.63" y="148">DEC</text>
<text x="206.25" y="180">START</text><text x="206.25" y="200">ENTER</text><text x="365.63" y="180">INC</text><text x="365.63" y="200">DEC</text><text x="523.75" y="180">INC</text><text x="523.75" y="200">DEC</text><text x="681.88" y="180">INC</text><text x="681.88" y="200">DEC</text><text x="840.63" y="180">INC</text><text x="840.63" y="200">DEC</text>
<text x="206.25" y="233">START</text><text x="206.25" y="253">ENTER</text><text x="365.63" y="233">INC</text><text x="365.63" y="253">DEC</text><text x="523.75" y="233">INC</text><text x="523.75" y="253">DEC</text><text x="681.88" y="233">INC</text><text x="681.88" y="253">DEC</text><text x="840.63" y="233">INC</text><text x="840.63" y="253">DEC</text>
<text x="206.25" y="284">START</text><text x="206.25" y="304">ENTER</text><text x="365.63" y="284">INC</text><text x="365.63" y="304">DEC</text><text x="523.75" y="284">INC</text><text x="523.75" y="304">DEC</text><text x="681.88" y="284">INC</text><text x="681.88" y="304">DEC</text><text x="840.63" y="284">INC</text><text x="840.63" y="304">DEC</text>
<text x="206.25" y="335">START</text><text x="206.25" y="355">ENTER</text><text x="365.63" y="335">INC</text><text x="365.63" y="355">DEC</text><text x="523.75" y="335">INC</text><text x="523.75" y="355">DEC</text><text x="681.88" y="335">INC</text><text x="681.88" y="355">DEC</text><text x="840.63" y="335">INC</text><text x="840.63" y="355">DEC</text>
<text x="206.25" y="385">START</text><text x="206.25" y="405">ENTER</text><text x="365.63" y="385">INC</text><text x="365.63" y="405">DEC</text>
<text x="206.25" y="437">START</text><text x="206.25" y="457">ENTER</text>
<text x="365.63" y="488">INC</text><text x="365.63" y="508">DEC</text>
<text x="206.25" y="540">START</text><text x="206.25" y="560">ENTER</text><text x="365.63" y="540">INC</text><text x="365.63" y="560">DEC</text>
<text x="206.25" y="591">START</text><text x="206.25" y="611">ENTER</text><text x="365.63" y="591">INC</text><text x="365.63" y="611">DEC</text><text x="523.75" y="591">INC</text><text x="523.75" y="611">DEC</text><text x="681.88" y="591">INC</text><text x="681.88" y="611">DEC</text><text x="840.63" y="591">INC</text><text x="840.63" y="611">DEC</text><text x="999.38" y="591">INC</text><text x="999.38" y="611">DEC</text>
<text x="365.63" y="644">INC</text><text x="365.63" y="664">DEC</text><text x="523.75" y="644">INC</text><text x="523.75" y="664">DEC</text><text x="681.88" y="644">INC</text><text x="681.88" y="664">DEC</text><text x="840.63" y="644">INC</text><text x="840.63" y="664">DEC</text><text x="999.38" y="644">INC</text><text x="999.38" y="664">DEC</text>
<text x="206.25" y="749">START</text><text x="206.25" y="769">ENTER</text><text x="365.63" y="749">START</text><text x="365.63" y="769">ENTER</text><text x="523.75" y="749">INC</text><text x="523.75" y="769">DEC</text><text x="681.88" y="749">INC</text><text x="681.88" y="769">DEC</text><text x="840.63" y="749">INC</text><text x="840.63" y="769">DEC</text><text x="999.38" y="749">INC</text><text x="999.38" y="769">DEC</text>
<text x="840.63" y="805">START</text><text x="840.63" y="825">ENTER</text><text x="999.38" y="805">INC</text><text x="999.38" y="825">DEC</text>
<text x="365.63" y="859">INC</text><text x="365.63" y="879">DEC</text><text x="523.75" y="859">INC</text><text x="523.75" y="879">DEC</text><text x="681.88" y="859">INC</text><text x="681.88" y="879">DEC</text><text x="840.63" y="859">INC</text><text x="840.63" y="879">DEC</text><text x="999.38" y="859">INC</text><text x="999.38" y="879">DEC</text>
<text x="365.63" y="916">START</text><text x="365.63" y="936">ENTER</text><text x="523.75" y="916">INC</text><text x="523.75" y="936">DEC</text><text x="681.88" y="916">INC</text><text x="681.88" y="936">DEC</text><text x="840.63" y="916">INC</text><text x="840.63" y="936">DEC</text><text x="999.38" y="916">INC</text><text x="999.38" y="936">DEC</text>
<text x="681.88" y="967">START</text><text x="681.88" y="987">ENTER</text><text x="840.63" y="967">INC</text><text x="840.63" y="987">DEC</text><text x="999.38" y="967">INC</text><text x="999.38" y="987">DEC</text>
<text x="365.63" y="1019">INC</text><text x="365.63" y="1039">DEC</text><text x="523.75" y="1019">INC</text><text x="523.75" y="1039">DEC</text><text x="681.88" y="1019">INC</text><text x="681.88" y="1039">DEC</text><text x="840.63" y="1019">INC</text><text x="840.63" y="1039">DEC</text><text x="999.38" y="1019">INC</text><text x="999.38" y="1039">DEC</text>
<text x="365.63" y="1072">START</text><text x="365.63" y="1092">ENTER</text><text x="523.75" y="1072">INC</text><text x="523.75" y="1092">DEC</text><text x="681.88" y="1072">INC</text><text x="681.88" y="1092">DEC</text><text x="840.63" y="1072">INC</text><text x="840.63" y="1092">DEC</text><text x="999.38" y="1072">INC</text><text x="999.38" y="1092">DEC</text>
<text x="365.63" y="1123">INC</text><text x="365.63" y="1143">DEC</text><text x="999.38" y="1123">START</text><text x="999.38" y="1143">ENTER</text>
</g>
</g>
</svg>
